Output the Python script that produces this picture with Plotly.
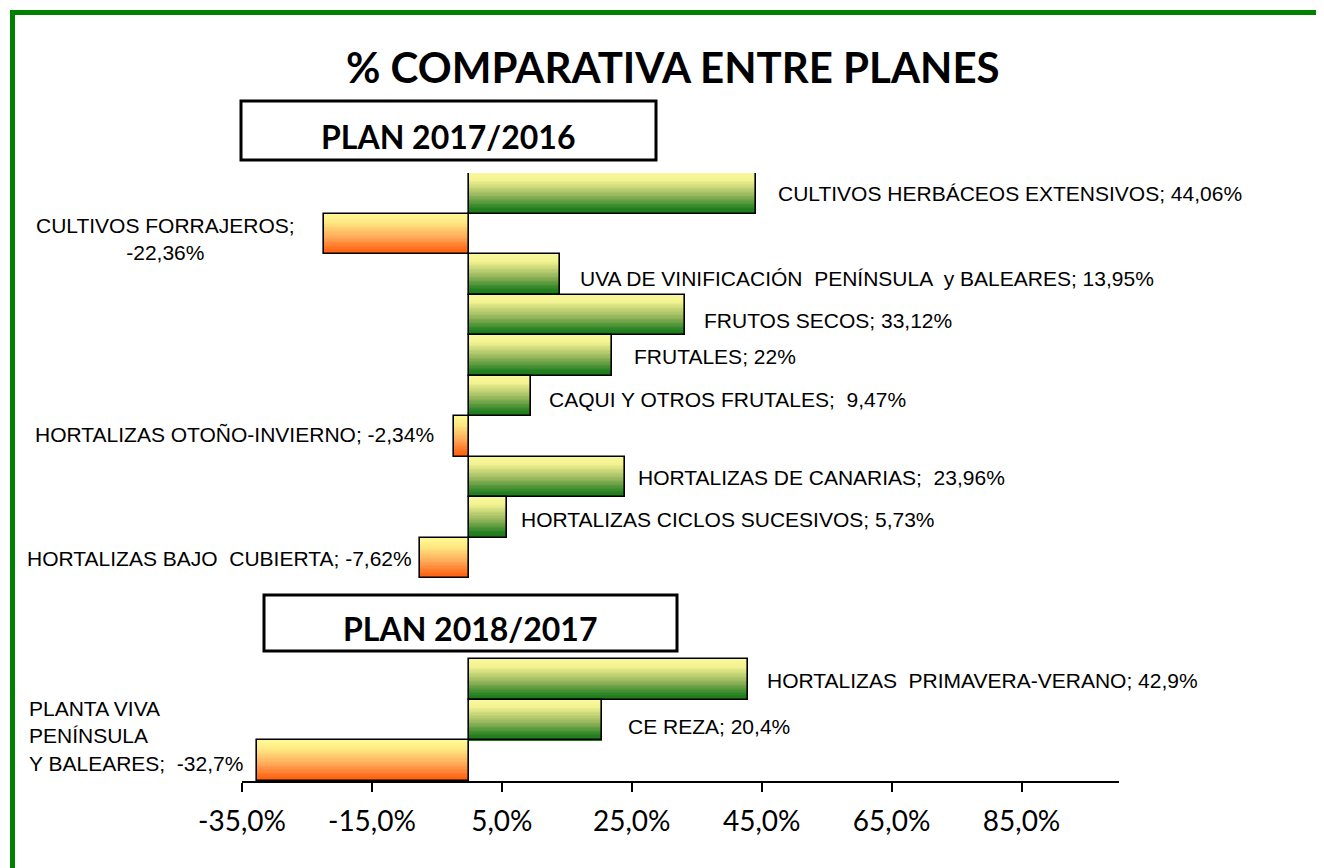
import plotly.graph_objects as go

# ---------------- data ----------------
plan1_categories = [
    "CULTIVOS HERBÁCEOS EXTENSIVOS",
    "CULTIVOS FORRAJEROS",
    "UVA DE VINIFICACIÓN PENÍNSULA y BALEARES",
    "FRUTOS SECOS",
    "FRUTALES",
    "CAQUI Y OTROS FRUTALES",
    "HORTALIZAS OTOÑO-INVIERNO",
    "HORTALIZAS DE CANARIAS",
    "HORTALIZAS CICLOS SUCESIVOS",
    "HORTALIZAS BAJO CUBIERTA",
]
plan1_values = [44.06, -22.36, 13.95, 33.12, 22.0, 9.47, -2.34, 23.96, 5.73, -7.62]

plan2_categories = [
    "HORTALIZAS PRIMAVERA-VERANO",
    "CEREZA",
    "PLANTA VIVA PENÍNSULA Y BALEARES",
]
plan2_values = [42.9, 20.4, -32.7]

spacer_categories = [" ", "  "]

plan1_labels = [
    "CULTIVOS HERBÁCEOS EXTENSIVOS; 44,06%",
    "CULTIVOS FORRAJEROS;<br>-22,36%",
    "UVA DE VINIFICACIÓN  PENÍNSULA  y BALEARES; 13,95%",
    "FRUTOS SECOS; 33,12%",
    "FRUTALES; 22%",
    "CAQUI Y OTROS FRUTALES;  9,47%",
    "HORTALIZAS OTOÑO-INVIERNO; -2,34%",
    "HORTALIZAS DE CANARIAS;  23,96%",
    "HORTALIZAS CICLOS SUCESIVOS; 5,73%",
    "HORTALIZAS BAJO  CUBIERTA; -7,62%",
]
plan2_labels = [
    "HORTALIZAS  PRIMAVERA-VERANO; 42,9%",
    "CE REZA; 20,4%",
    "PLANTA VIVA<br>PENÍNSULA<br>Y BALEARES;  -32,7%",
]

x_tick_values = [-35, -15, 5, 25, 45, 65, 85]
x_tick_labels = ["-35,0%", "-15,0%", "5,0%", "25,0%", "45,0%", "65,0%", "85,0%"]
x_range = [-35, 100]

title_text = "% COMPARATIVA ENTRE PLANES"
plan1_title = "PLAN 2017/2016"
plan2_title = "PLAN 2018/2017"

# ---------------- layout geometry ----------------
# page body has an 8px margin; the figure is sized to fill the rest of the window
OFF = 8
W, H = 1316, 860
L, R, T, B = 234, 205, 165, 87
PW, PH = W - L - R, H - T - B


def px(xp):
    """window x pixel -> paper x"""
    return (xp - OFF - L) / PW


def py(yp):
    """window y pixel -> paper y"""
    return (H - B - (yp - OFF)) / PH


categories = plan1_categories + spacer_categories + plan2_categories
values = plan1_values + plan2_values
bar_cats = plan1_categories + plan2_categories
labels = plan1_labels + plan2_labels

# per-label placement tweaks (pixels): (xshift magnitude, yshift, align)
label_style = [
    (20, 0, "left"),
    (27, -5, "center"),
    (18, -4, "left"),
    (17, -6, "left"),
    (20, -1, "left"),
    (16, -4, "left"),
    (18, 2, "left"),
    (11, 0, "left"),
    (12, -2, "left"),
    (6, 0, "left"),
    (17, -1, "left"),
    (24, -6, "left"),
    (12, 25, "left"),
]

# ---------------- gradient helpers ----------------
green_stops = [(0.0, (249, 248, 158)), (0.18, (243, 243, 145)), (0.55, (150, 182, 92)),
               (0.88, (34, 128, 32)), (1.0, (28, 120, 26))]
orange_stops = [(0.0, (255, 249, 150)), (0.22, (255, 232, 130)), (0.6, (255, 165, 85)),
                (0.9, (255, 104, 22)), (1.0, (255, 96, 14))]


def interp(stops, t):
    for (t0, c0), (t1, c1) in zip(stops[:-1], stops[1:]):
        if t0 <= t <= t1:
            f = (t - t0) / (t1 - t0) if t1 > t0 else 0
            return "rgb(%d,%d,%d)" % tuple(round(a + (b - a) * f) for a, b in zip(c0, c1))
    return "rgb(%d,%d,%d)" % stops[-1][1]


fig = go.Figure()

N = 30
for k in range(N):
    t = (k + 0.5) / N
    colors = [interp(green_stops if v >= 0 else orange_stops, t) for v in values]
    fig.add_trace(go.Bar(
        x=values, y=bar_cats, orientation="h",
        width=1 - k / N, offset=-0.5 + k / N,
        marker=dict(color=colors, line=dict(width=0)),
        hoverinfo="skip", showlegend=False,
    ))

# outline
fig.add_trace(go.Bar(
    x=values, y=bar_cats, orientation="h", width=1, offset=-0.5,
    marker=dict(color="rgba(0,0,0,0)", line=dict(color="black", width=1.6)),
    hovertemplate="%{y}: %{x}%<extra></extra>", showlegend=False,
))

label_font = dict(family="Liberation Sans Narrow, Arial Narrow, Liberation Sans, Arial", size=21, color="black")

annotations = []
for cat, v, txt, (dx, dy, al) in zip(bar_cats, values, labels, label_style):
    annotations.append(dict(
        x=v, y=cat, xref="x", yref="y", text=txt, showarrow=False,
        xanchor="left" if v >= 0 else "right", yanchor="middle",
        xshift=dx if v >= 0 else -dx, yshift=dy, align=al, font=label_font,
    ))

head_font = "Lato, Carlito, Calibri, Open Sans, sans-serif"
annotations.append(dict(
    x=px(673), y=py(67), xref="paper", yref="paper", text="<b>%s</b>" % title_text,
    showarrow=False, xanchor="center", yanchor="middle",
    font=dict(family=head_font, size=42, color="black"),
))
annotations.append(dict(
    x=px(448), y=py(136), xref="paper", yref="paper", text="<b>%s</b>" % plan1_title,
    showarrow=False, xanchor="center", yanchor="middle",
    font=dict(family=head_font, size=32, color="black"),
))
annotations.append(dict(
    x=px(470), y=py(628), xref="paper", yref="paper", text="<b>%s</b>" % plan2_title,
    showarrow=False, xanchor="center", yanchor="middle",
    font=dict(family=head_font, size=32, color="black"),
))

shapes = [
    dict(type="rect", xref="paper", yref="paper", x0=px(241), x1=px(656), y0=py(160), y1=py(101),
         line=dict(color="black", width=3), fillcolor="rgba(0,0,0,0)"),
    dict(type="rect", xref="paper", yref="paper", x0=px(264), x1=px(677), y0=py(651), y1=py(595),
         line=dict(color="black", width=3), fillcolor="rgba(0,0,0,0)"),
    dict(type="rect", xref="paper", yref="paper", x0=px(12.5), x1=px(1321.5), y0=py(900), y1=py(12.5),
         line=dict(color="#008000", width=5), fillcolor="rgba(0,0,0,0)"),
]

fig.update_layout(
    width=W, height=H,
    margin=dict(l=L, r=R, t=T, b=B, pad=0),
    paper_bgcolor="white", plot_bgcolor="white",
    barmode="overlay", bargap=0,
    separators=",.",
    annotations=annotations, shapes=shapes,
    xaxis=dict(
        range=x_range, tickvals=x_tick_values, ticktext=x_tick_labels,
        showgrid=False, zeroline=False, showline=True, linecolor="black", linewidth=1.6,
        ticks="outside", ticklen=9, tickwidth=1.6, tickcolor="black",
        tickfont=dict(family=head_font, size=28, color="black"),
        ticklabelstandoff=6, fixedrange=True,
    ),
    yaxis=dict(
        categoryorder="array", categoryarray=categories, type="category",
        range=[len(categories) - 0.5, -0.5],
        showgrid=False, zeroline=False, showline=False, showticklabels=False, ticks="",
        fixedrange=True,
    ),
)

fig.write_html("out.html")
